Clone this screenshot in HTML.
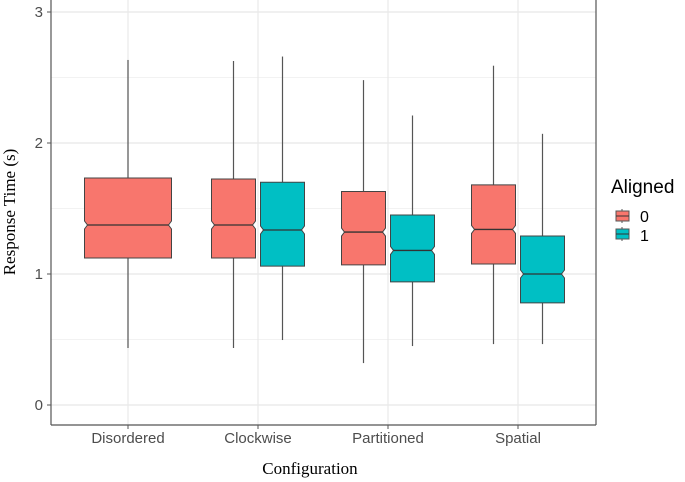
<!DOCTYPE html>
<html><head><meta charset="utf-8"><style>
body{margin:0;background:#fff}
svg{display:block}
</style></head><body>
<svg id="chart" width="685" height="482" font-family="Liberation Sans, sans-serif">
<g id="grid"></g>
<g id="boxes"></g>
<line x1="51" y1="0" x2="51" y2="425" stroke="#555" stroke-width="1.2"/>
<line x1="51" y1="425" x2="596" y2="425" stroke="#555" stroke-width="1.2"/>
<line x1="596" y1="0" x2="596" y2="425" stroke="#555" stroke-width="1.2"/>
<g id="ticks"></g>
<text x="15" y="212" transform="rotate(-90 15 212)" text-anchor="middle" font-family="Liberation Serif, serif" font-size="17" fill="#000">Response Time (s)</text>
<text x="310" y="474" text-anchor="middle" font-family="Liberation Serif, serif" font-size="17" fill="#000">Configuration</text>
<g>
<text x="611" y="193" font-size="19" fill="#000">Aligned</text>
<g>
<line x1="622" y1="209" x2="622" y2="223" stroke="#555"/>
<rect x="616" y="211" width="13" height="10" fill="#F8766D" stroke="#555"/>
<line x1="616" y1="216" x2="629" y2="216" stroke="#333"/>
<text x="640" y="222" font-size="16" fill="#000">0</text></g>
<g>
<line x1="622" y1="227" x2="622" y2="241" stroke="#555"/>
<rect x="616" y="229" width="13" height="10" fill="#00BFC4" stroke="#555"/>
<line x1="616" y1="234" x2="629" y2="234" stroke="#333"/>
<text x="640" y="241" font-size="16" fill="#000">1</text></g>
</g>
</svg>
<script>
const categories=["Disordered","Clockwise","Partitioned","Spatial"];
const groups=["0","1"];
const seriesCat=[0,1,1,2,2,3,3];
const seriesGroup=[-1,0,1,0,1,0,1];
const whiskerLow=[0.435,0.435,0.496,0.32,0.45,0.465,0.465];
const q1=[1.122,1.122,1.06,1.07,0.94,1.076,0.78];
const median=[1.374,1.374,1.336,1.32,1.18,1.34,1.0];
const q3=[1.733,1.725,1.70,1.63,1.45,1.68,1.29];
const whiskerHigh=[2.634,2.626,2.66,2.48,2.21,2.59,2.07];
const yTicks=[0,1,2,3];
const yMinor=[0.5,1.5,2.5];

const NS="http://www.w3.org/2000/svg";
const y=v=>405-131*v;
const x=i=>128+130*i;
function mk(tag,attrs,parent){const e=document.createElementNS(NS,tag);for(const k in attrs)e.setAttribute(k,attrs[k]);parent.appendChild(e);return e;}
const grid=document.getElementById('grid'),ticks=document.getElementById('ticks'),boxes=document.getElementById('boxes');
yMinor.forEach(v=>{const l=mk('line',{x1:51,x2:596,y1:y(v),y2:y(v),stroke:'#f2f2f2','stroke-width':1},grid);

});
yTicks.forEach(v=>{const l=mk('line',{x1:51,x2:596,y1:y(v),y2:y(v),stroke:'#e8e8e8','stroke-width':1.2},grid);


mk('line',{x1:47,x2:51,y1:y(v),y2:y(v),stroke:'#555'},ticks);
const t=mk('text',{x:43,y:y(v)+5,'text-anchor':'end','font-size':15,fill:'#4d4d4d'},ticks);t.textContent=v;

});
categories.forEach((c,i)=>{const l=mk('line',{x1:x(i),x2:x(i),y1:0,y2:425,stroke:'#e8e8e8','stroke-width':1.2},grid);


mk('line',{x1:x(i),x2:x(i),y1:425,y2:429,stroke:'#555'},ticks);
const t=mk('text',{x:x(i),y:443,'text-anchor':'middle','font-size':15,fill:'#4d4d4d'},ticks);t.textContent=c;

});
for(let k=0;k<seriesCat.length;k++){
  const g=seriesGroup[k];
  const cx=g<0?x(seriesCat[k]):x(seriesCat[k])+(g===0?-24.5:24.5);
  const hw=g<0?43.5:22;
  const fill=g===1?'#00BFC4':'#F8766D';
  const grp=mk('g',{},boxes);
  
  
  mk('line',{x1:cx,x2:cx,y1:y(whiskerHigh[k]),y2:y(q3[k]),stroke:'#555','stroke-width':1.2},grp);
  mk('line',{x1:cx,x2:cx,y1:y(q1[k]),y2:y(whiskerLow[k]),stroke:'#555','stroke-width':1.2},grp);
  const n=4,d=3,m=y(median[k]);
  const L=cx-hw,R=cx+hw;
  const pts=[[L,y(q3[k])],[R,y(q3[k])],[R,m-n],[R-d,m],[R,m+n],[R,y(q1[k])],[L,y(q1[k])],[L,m+n],[L+d,m],[L,m-n]];
  mk('polygon',{points:pts.map(p=>p.join(',')).join(' '),fill:fill,stroke:'#444','stroke-width':1},grp);
  mk('line',{x1:L+d,x2:R-d,y1:m,y2:m,stroke:'#333','stroke-width':1.3},grp);
}
</script>
</body></html>
